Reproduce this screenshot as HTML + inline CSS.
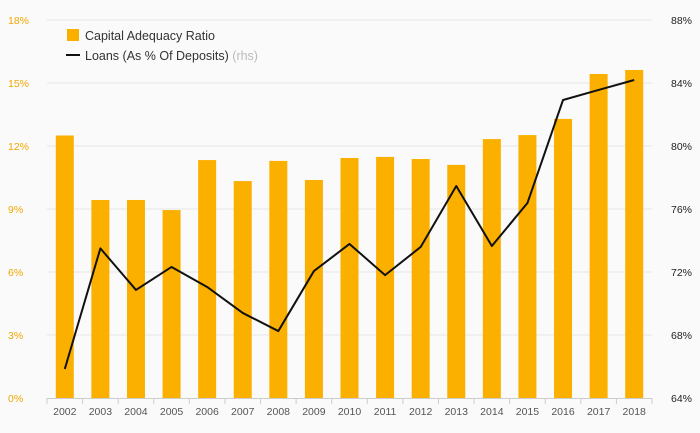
<!DOCTYPE html>
<html><head><meta charset="utf-8"><style>
html,body{margin:0;padding:0;background:#fafafa;}
svg{display:block;font-family:"Liberation Sans",sans-serif;}
</style></head><body>
<svg id="chart" width="700" height="433" viewBox="0 0 700 433" xmlns="http://www.w3.org/2000/svg">
<rect width="700" height="433" fill="#fafafa"/>
<g id="grid"></g><g id="bars"></g><g id="line"></g><g id="axes"></g>
<g>
<rect x="67" y="29" width="12" height="12" fill="#fbb000"/>
<text x="85" y="40" font-size="12.5" fill="#333">Capital Adequacy Ratio</text>
<line x1="66" y1="55" x2="80" y2="55" stroke="#111" stroke-width="2"/>
<text x="85" y="60" font-size="12.5" fill="#333">Loans (As % Of Deposits) <tspan fill="#bbb">(rhs)</tspan></text>
</g>
</svg>
<script>
const years=["2002","2003","2004","2005","2006","2007","2008","2009","2010","2011","2012","2013","2014","2015","2016","2017","2018"];
const carValues=[12.5,9.43,9.43,8.95,11.33,10.33,11.29,10.38,11.43,11.48,11.38,11.1,12.33,12.52,13.29,15.43,15.62];
const loanValues=[65.84,73.5,70.86,72.32,71.05,69.4,68.25,72.06,73.78,71.8,73.59,77.46,73.65,76.38,82.92,83.56,84.19];
const leftTicks=[0,3,6,9,12,15,18];
const rightTicks=[64,68,72,76,80,84,88];
const NS="http://www.w3.org/2000/svg";
const L=47,R=652,T=20,B=398;
const step=(R-L)/years.length;
const xc=i=>L+step*(i+0.5);
const yL=v=>B-(v-0)/18*(B-T);
const yR=v=>B-(v-64)/24*(B-T);
function mk(tag,attrs,parent,txt){const e=document.createElementNS(NS,tag);for(const k in attrs)e.setAttribute(k,attrs[k]);if(txt!==undefined)e.textContent=txt;parent.appendChild(e);return e;}
const grid=document.getElementById('grid'),bars=document.getElementById('bars'),line=document.getElementById('line'),axes=document.getElementById('axes');
leftTicks.forEach((t,i)=>{
  const y=yL(t);
  if(i>0){const g=mk('line',{x1:L,x2:R,y1:y,y2:y,stroke:'#e6e6e6','stroke-width':1},grid);
  
  }
  const tx=mk('text',{x:8,y:y+4,'font-size':10.5,fill:'#f0a800'},axes,t+'%');
  
  
});
rightTicks.forEach(t=>{
  const tx=mk('text',{x:692,y:yR(t)+4,'font-size':10.5,fill:'#222','text-anchor':'end'},axes,t+'%');
  
  
});
const ax=mk('line',{x1:L,x2:R,y1:B+0.5,y2:B+0.5,stroke:'#ccc'},axes);


years.forEach((yr,i)=>{
  const b=mk('rect',{x:xc(i)-9,y:yL(carValues[i]),width:18,height:B-yL(carValues[i]),fill:'#fbb000'},bars);
  
  
  const tk=mk('line',{x1:L+step*i,x2:L+step*i,y1:B,y2:B+6,stroke:'#ccc'},axes);
  
  
  const tx=mk('text',{x:xc(i),y:B+17,'font-size':10.5,fill:'#555','text-anchor':'middle'},axes,yr);
  
  
});
const tk=mk('line',{x1:R,x2:R,y1:B,y2:B+6,stroke:'#ccc'},axes);


const pts=loanValues.map((v,i)=>xc(i)+','+yR(v)).join(' ');
const pl=mk('polyline',{points:pts,fill:'none',stroke:'#111','stroke-width':2,'stroke-linejoin':'round'},line);


</script>
</body></html>
